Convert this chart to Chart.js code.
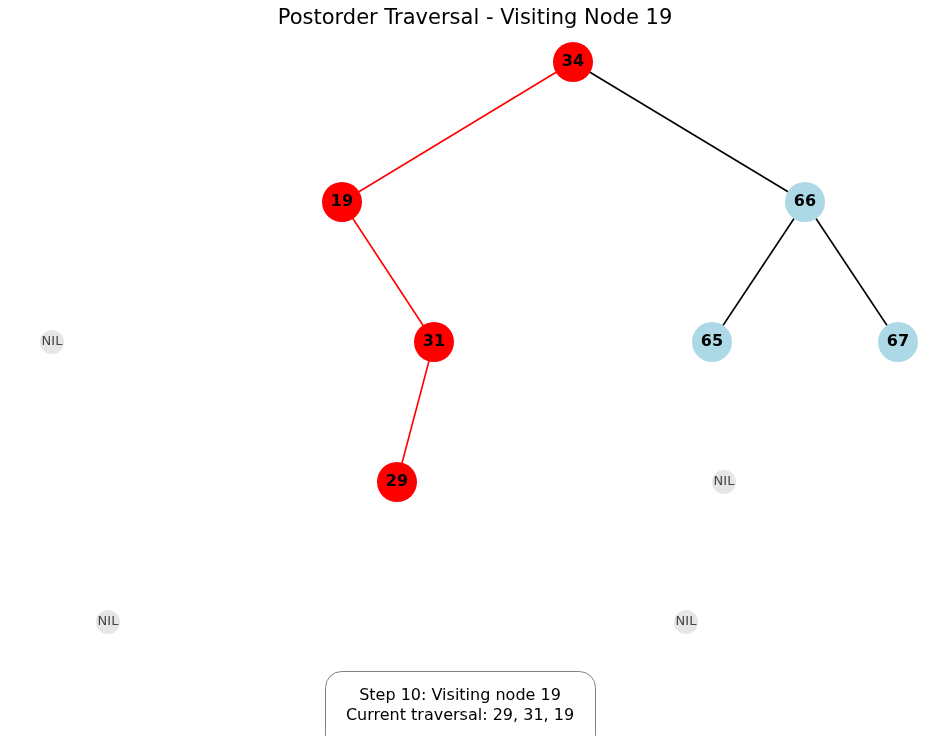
<!DOCTYPE html>
<html>
<head>
<meta charset="utf-8">
<script src="https://cdn.jsdelivr.net/npm/chart.js@4"></script>
<style>
  html, body { margin: 0; padding: 0; background: #fff; }
  #wrap { width: 950px; height: 736px; }
</style>
</head>
<body>
<div id="wrap"><canvas id="tree"></canvas></div>
<script>
// node layout (x position, depth level)
const nodeLabels = ["34", "19", "66", "31", "65", "67", "29"];
const nodeX      = [573, 342, 805, 434, 712, 898, 397];
const nodeLevel  = [0, 1, 1, 2, 2, 2, 3];
const visited    = ["34", "19", "31", "29"];

const nilX     = [52, 724, 108, 686];
const nilLevel = [2, 3, 4, 4];

const edges = [["34", "19"], ["19", "31"], ["31", "29"], ["34", "66"], ["66", "65"], ["66", "67"]];

const titleText = "Postorder Traversal - Visiting Node 19";
const infoLines = ["Step 10: Visiting node 19", "Current traversal: 29, 31, 19"];

function pos(label) {
    const i = nodeLabels.indexOf(label);
    return { x: nodeX[i], y: -nodeLevel[i] };
}

const edgeSets = edges.map(([a, b]) => {
    const hot = visited.includes(a) && visited.includes(b);
    return {
        data: [pos(a), pos(b)],
        showLine: true,
        borderColor: hot ? "#ff0000" : "#000000",
        borderWidth: 1.6,
        pointRadius: 0,
        order: 2
    };
});

const nodeSet = {
    data: nodeLabels.map(l => pos(l)),
    pointRadius: 20,
    pointHoverRadius: 20,
    pointBackgroundColor: nodeLabels.map(l => visited.includes(l) ? "#ff0000" : "#add8e6"),
    pointBorderWidth: 0,
    order: 0
};

const nilSet = {
    data: nilX.map((x, i) => ({ x: x, y: -nilLevel[i] })),
    pointRadius: 12,
    pointHoverRadius: 12,
    pointBackgroundColor: "#e6e6e6",
    pointBorderWidth: 0,
    order: 1
};

const decor = {
    id: "decor",
    afterDatasetsDraw(chart) {
        const { ctx, scales } = chart;
        ctx.save();
        ctx.textAlign = "center";
        ctx.textBaseline = "middle";
        ctx.fillStyle = "#000";
        ctx.font = "bold 16px 'DejaVu Sans'";
        nodeLabels.forEach((l, i) => {
            ctx.fillText(l, scales.x.getPixelForValue(nodeX[i]), scales.y.getPixelForValue(-nodeLevel[i]));
        });
        ctx.fillStyle = "#444";
        ctx.font = "13px 'DejaVu Sans'";
        nilX.forEach((x, i) => {
            ctx.fillText("NIL", scales.x.getPixelForValue(x), scales.y.getPixelForValue(-nilLevel[i]));
        });
        ctx.fillStyle = "#000";
        ctx.font = "21px 'DejaVu Sans'";
        ctx.fillText(titleText, 475, 19);
        // info box
        ctx.beginPath();
        ctx.roundRect(325.5, 671.5, 270, 80, 16);
        ctx.fillStyle = "#fff";
        ctx.fill();
        ctx.strokeStyle = "#808080";
        ctx.lineWidth = 1;
        ctx.stroke();
        ctx.fillStyle = "#000";
        ctx.font = "16px 'DejaVu Sans'";
        ctx.fillText(infoLines[0], 460, 696);
        ctx.fillText(infoLines[1], 460, 716);
        ctx.restore();
    }
};

new Chart(document.getElementById("tree").getContext("2d"), {
    type: "scatter",
    data: { datasets: [...edgeSets, nilSet, nodeSet] },
    options: {
        responsive: true,
        maintainAspectRatio: false,
        animation: false,
        layout: { padding: 0, autoPadding: false },
        plugins: { legend: { display: false }, tooltip: { enabled: false } },
        scales: {
            x: { display: false, min: 0, max: 950 },
            y: { display: false, min: -(736 - 62) / 140, max: 62 / 140 }
        }
    },
    plugins: [decor]
});
</script>
</body>
</html>
